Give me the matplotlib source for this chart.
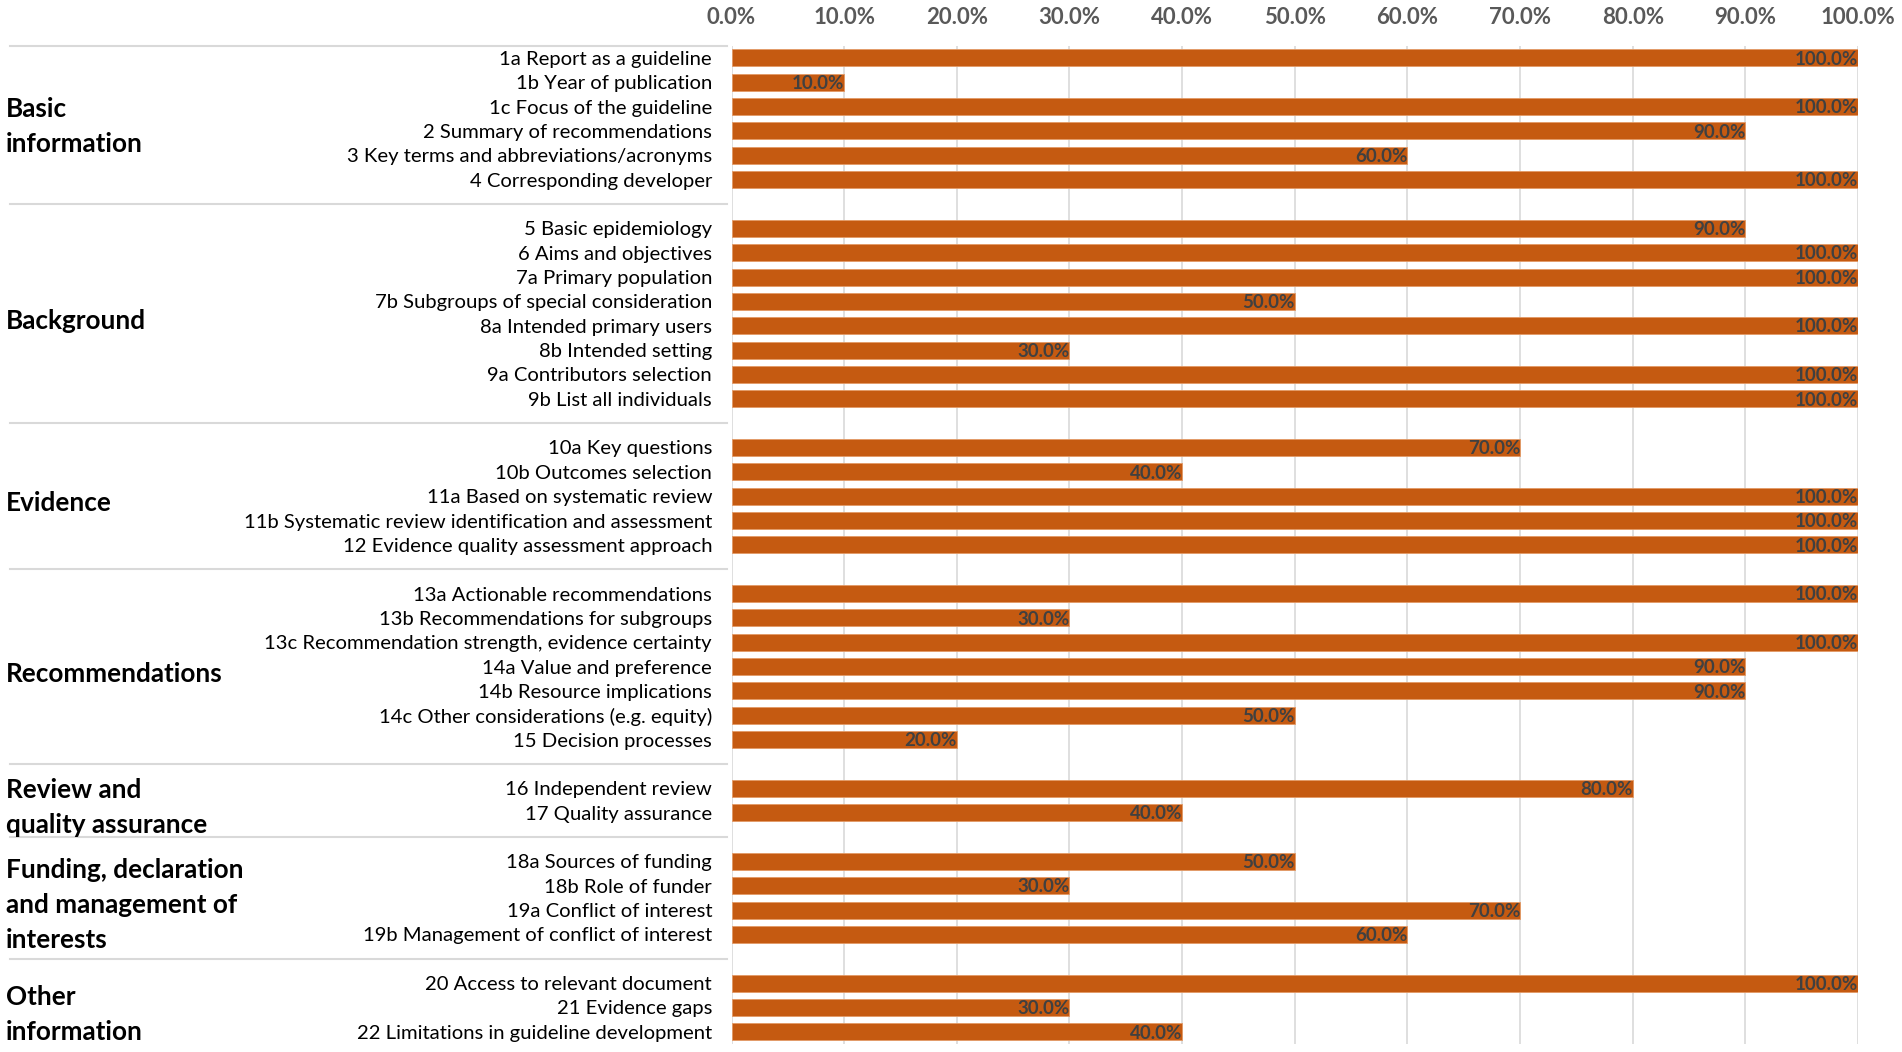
import matplotlib
matplotlib.use('Agg')
import matplotlib.pyplot as plt
import matplotlib.transforms as mtransforms
import numpy as np

plt.rcParams['font.family'] = ['Lato', 'DejaVu Sans']

# groups and items (top to bottom)
group_names = ['Basic\ninformation', 'Background', 'Evidence', 'Recommendations',
               'Review and\nquality assurance',
               'Funding, declaration\nand management of\ninterests',
               'Other\ninformation']

basic_items = ['1a Report as a guideline', '1b Year of publication', '1c Focus of the guideline',
               '2 Summary of recommendations', '3 Key terms and abbreviations/acronyms',
               '4 Corresponding developer']
basic_vals = [100, 10, 100, 90, 60, 100]

background_items = ['5 Basic epidemiology', '6 Aims and objectives', '7a Primary population',
                    '7b Subgroups of special consideration', '8a Intended primary users',
                    '8b Intended setting', '9a Contributors selection', '9b List all individuals']
background_vals = [90, 100, 100, 50, 100, 30, 100, 100]

evidence_items = ['10a Key questions', '10b Outcomes selection', '11a Based on systematic review',
                  '11b Systematic review identification and assessment',
                  '12 Evidence quality assessment approach']
evidence_vals = [70, 40, 100, 100, 100]

recom_items = ['13a Actionable recommendations', '13b Recommendations for subgroups',
               '13c Recommendation strength, evidence certainty', '14a Value and preference',
               '14b Resource implications', '14c Other considerations (e.g. equity)',
               '15 Decision processes']
recom_vals = [100, 30, 100, 90, 90, 50, 20]

review_items = ['16 Independent review', '17 Quality assurance']
review_vals = [80, 40]

funding_items = ['18a Sources of funding', '18b Role of funder', '19a Conflict of interest',
                 '19b Management of conflict of interest']
funding_vals = [50, 30, 70, 60]

other_items = ['20 Access to relevant document', '21 Evidence gaps',
               '22 Limitations in guideline development']
other_vals = [100, 30, 40]

group_items = [basic_items, background_items, evidence_items, recom_items,
               review_items, funding_items, other_items]
group_vals = [basic_vals, background_vals, evidence_vals, recom_vals,
              review_vals, funding_vals, other_vals]

xticks = np.arange(0, 101, 10)

bar_color = '#C55A11'
grid_color = '#D9D9D9'

# build slot positions (one empty slot between groups)
ypos, labels, vals, seps, centers = [], [], [], [-0.5], []
slot = 0
for gi, (items, v) in enumerate(zip(group_items, group_vals)):
    start = slot
    for it, val in zip(items, v):
        ypos.append(slot)
        labels.append(it)
        vals.append(val)
        slot += 1
    centers.append((start + slot - 1) / 2.0)
    if gi < len(group_items) - 1:
        seps.append(slot)
        slot += 1
nslots = slot

fig = plt.figure(figsize=(19.02, 10.52), dpi=100)
ax = fig.add_axes([0.3846, 0.0076, 0.5923, 0.9489])

ax.barh(ypos, vals, height=0.7, color=bar_color, edgecolor='#E39A66', linewidth=0.6, zorder=2)
ax.set_ylim(nslots - 0.5, -0.5)
ax.set_xlim(0, 100)

ax.set_yticks(ypos)
ax.set_yticklabels(labels, fontsize=14.6, color='black')
ax.tick_params(axis='y', length=0, pad=14)

ax.xaxis.tick_top()
ax.set_xticks(xticks)
ax.set_xticklabels(['%.1f%%' % t for t in xticks], fontsize=16, color='#595959', fontweight='bold')
ax.tick_params(axis='x', length=0, pad=13)

ax.grid(axis='x', color=grid_color, linewidth=1.2, zorder=0)
ax.set_axisbelow(True)
for s in ax.spines.values():
    s.set_visible(False)

for y, v in zip(ypos, vals):
    ax.text(v, y + 0.05, '%.1f%%' % v, ha='right', va='center', fontsize=13.5,
            fontweight='bold', color='#404040', zorder=3)

# separator lines on the label side
trans = mtransforms.blended_transform_factory(fig.transFigure, ax.transData)
for s in seps:
    ax.plot([0.005, 0.382], [s, s], color=grid_color, linewidth=1.5,
            transform=trans, clip_on=False)

for name, c in zip(group_names, centers):
    ax.text(0.003, c + 0.3, name, transform=trans, ha='left', va='center',
            fontsize=18.8, fontweight='bold', color='black', linespacing=1.55)

plt.savefig('out.png', dpi=100)
plt.close(fig)
